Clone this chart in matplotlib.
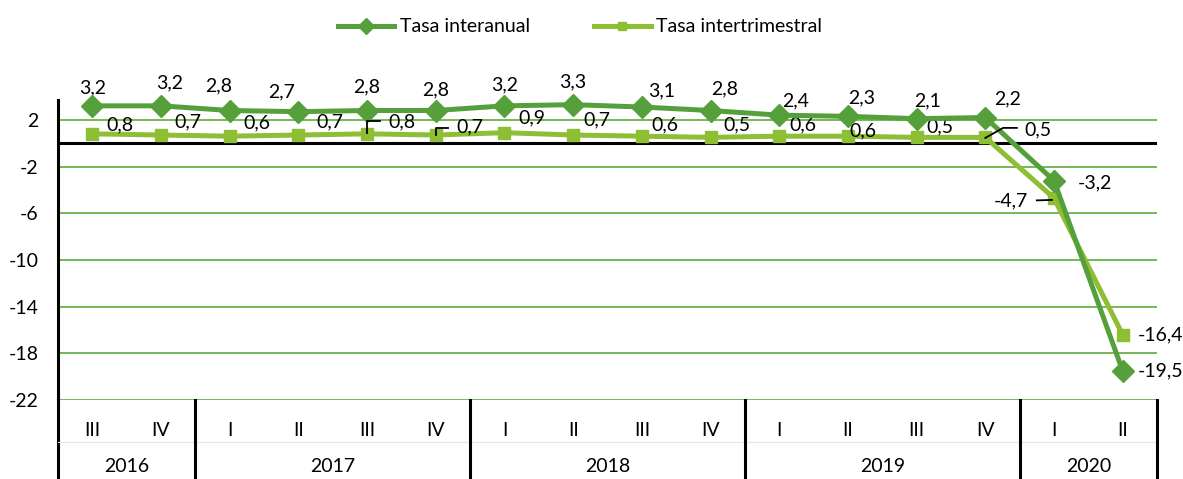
import matplotlib
matplotlib.use('Agg')
import matplotlib.pyplot as plt
import matplotlib.transforms as mtransforms

plt.rcParams['font.family'] = ['Lato', 'DejaVu Sans']

## datos
trimestres = ['III', 'IV', 'I', 'II', 'III', 'IV', 'I', 'II', 'III', 'IV',
              'I', 'II', 'III', 'IV', 'I', 'II']
anios = ['2016', '2017', '2018', '2019', '2020']
trim_por_anio = [2, 4, 4, 4, 2]
interanual = [3.2, 3.2, 2.8, 2.7, 2.8, 2.8, 3.2, 3.3, 3.1, 2.8,
              2.4, 2.3, 2.1, 2.2, -3.2, -19.5]
intertrimestral = [0.8, 0.7, 0.6, 0.7, 0.8, 0.7, 0.9, 0.7, 0.6, 0.5,
                   0.6, 0.6, 0.5, 0.5, -4.7, -16.4]

# offsets de las etiquetas (en puntos), a ojo
off_inter = [(0, 13), (6.5, 16.5), (-7.7, 17.7), (-11.8, 14), (0, 17), (0, 14.8),
             (0, 15), (0, 16.5), (14.5, 11.5), (10.4, 15.5), (12, 10), (10, 13),
             (8, 13), (16, 13.4), (29.5, -1.7), (11, 0)]
off_trim = [(20, 6.5), (19.5, 9.4), (19.5, 9.6), (22.7, 9.4), (25, 8.5), (24.6, 6),
            (19.8, 10.6), (17.3, 10.9), (16.6, 8), (19, 9.2), (17, 8.4), (11, 3.6),
            (16.8, 7.5), (38, 5.4), (-18.7, -2), (11, 0)]

verde = '#56A03C'
verde_claro = '#8DBE33'
verde_grid = '#5DAB3A'
fs = 14

fig = plt.figure(figsize=(11.83, 4.79), dpi=100)
ax = fig.add_axes([58 / 1183, 1 - 400 / 479, 1099 / 1183, 300 / 479])

x = list(range(len(trimestres)))
ax.set_xlim(-0.5, len(trimestres) - 0.5)
ax.set_ylim(-22, 3.7)

for v in range(2, -23, -4):
    ax.axhline(v, color=verde_grid, lw=1.2, zorder=1)
ax.axhline(0, color='black', lw=2.2, zorder=2)

ax.plot(x, interanual, color=verde, lw=3.6, marker='D', markersize=11,
        label='Tasa interanual', zorder=4, clip_on=False)
ax.plot(x, intertrimestral, color=verde_claro, lw=3.6, marker='s', markersize=9,
        label='Tasa intertrimestral', zorder=3, clip_on=False)

def fmt(v):
    return ('%.1f' % v).replace('.', ',')

for i, v in enumerate(interanual):
    ha = 'left' if i == 15 else 'center'
    ax.annotate(fmt(v), (i, v), xytext=off_inter[i], textcoords='offset points',
                ha=ha, va='center', fontsize=fs, annotation_clip=False)
for i, v in enumerate(intertrimestral):
    ha = 'right' if i == 14 else ('left' if i == 15 else 'center')
    ax.annotate(fmt(v), (i, v), xytext=off_trim[i], textcoords='offset points',
                ha=ha, va='center', fontsize=fs, annotation_clip=False)

# lineas guia de algunas etiquetas
ax.plot([4, 4, 4.19], [0.88, 1.91, 1.91], color='black', lw=1.3, zorder=5)
ax.plot([5, 5, 5.18], [0.71, 1.31, 1.31], color='black', lw=1.3, zorder=5)
ax.plot([13.0, 13.26, 13.46], [0.45, 1.31, 1.31], color='black', lw=1.3, zorder=5)
ax.plot([13.75, 13.97], [-4.9, -4.86], color='black', lw=1.3, zorder=5)

# ejes
for s in ['top', 'right', 'bottom']:
    ax.spines[s].set_visible(False)
ax.spines['left'].set_linewidth(2.2)
ax.set_xticks([])
ax.set_yticks(range(2, -23, -4))
ax.tick_params(axis='y', length=0, labelsize=fs, pad=14)
ax.set_yticklabels([str(v) for v in range(2, -23, -4)])

# eje de categorias en dos niveles
trans = mtransforms.blended_transform_factory(ax.transData, ax.transAxes)
bottom = -79 / 300
ax.plot([-0.5, -0.5], [0, bottom], color='black', lw=2.2, transform=trans, clip_on=False)
ax.plot([-0.5, 15.5], [-42 / 300, -42 / 300], color='#e4e4e4', lw=0.8,
        transform=trans, clip_on=False)
for i, t in enumerate(trimestres):
    ax.text(i, -30 / 300, t, transform=trans, ha='center', va='center', fontsize=fs)
start = -0.5
for anio, n in zip(anios, trim_por_anio):
    end = start + n
    ax.plot([end, end], [0, bottom], color='black', lw=2.2, transform=trans, clip_on=False)
    ax.text((start + end) / 2, -67 / 300, anio, transform=trans, ha='center',
            va='center', fontsize=fs)
    start = end

fig.legend(loc='center', bbox_to_anchor=(580 / 1183, 1 - 27 / 479), ncol=2,
           frameon=False, fontsize=fs, handlelength=2.9, columnspacing=3.3,
           markerscale=0.7, handletextpad=0.3)

fig.savefig('out.png', dpi=100)
